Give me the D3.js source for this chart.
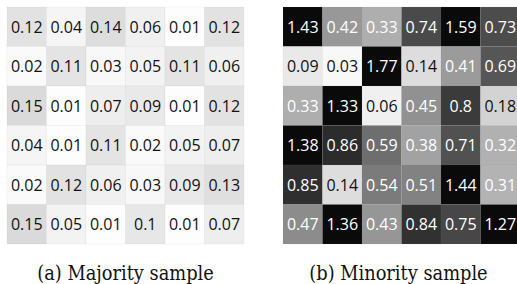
<!DOCTYPE html>
<html>
<script src='https://d3js.org/d3.v7.min.js'></script>
<style>
body { margin: 0; background: white; }
.cap { font-family: "DejaVu Serif Condensed", "DejaVu Serif", serif; font-size: 19.8px; }
.val { font-family: "Open Sans", "Noto Sans", sans-serif; font-size: 16px; }
</style>
<body>
<svg id="chart" width=517 height=284></svg>
<script>

// values (row by row)
var majority = [
  [0.12, 0.04, 0.14, 0.06, 0.01, 0.12],
  [0.02, 0.11, 0.03, 0.05, 0.11, 0.06],
  [0.15, 0.01, 0.07, 0.09, 0.01, 0.12],
  [0.04, 0.01, 0.11, 0.02, 0.05, 0.07],
  [0.02, 0.12, 0.06, 0.03, 0.09, 0.13],
  [0.15, 0.05, 0.01, 0.1, 0.01, 0.07]
];
var minority = [
  [1.43, 0.42, 0.33, 0.74, 1.59, 0.73],
  [0.09, 0.03, 1.77, 0.14, 0.41, 0.69],
  [0.33, 1.33, 0.06, 0.45, 0.8, 0.18],
  [1.38, 0.86, 0.59, 0.38, 0.71, 0.32],
  [0.85, 0.14, 0.54, 0.51, 1.44, 0.31],
  [0.47, 1.36, 0.43, 0.84, 0.75, 1.27]
];
var rowIds = [0, 1, 2, 3, 4, 5];
var colIds = [0, 1, 2, 3, 4, 5];
var captions = ["(a) Majority sample", "(b) Minority sample"];

var svg = d3.select("#chart");
var size = 237;

// shared grey scale, saturates near 1
var color = d3.scaleLinear().domain([0, 1]).range(["#ffffff", "#0a0a0a"]).clamp(true);

function drawGrid(data, x0, y0, caption, capX) {
  var x = d3.scaleBand().domain(colIds).range([x0, x0 + size]);
  var y = d3.scaleBand().domain(rowIds).range([y0, y0 + size]);

  var cells = [];
  data.forEach(function(row, i) {
    row.forEach(function(v, j) { cells.push({r: i, c: j, v: v}); });
  });

  var g = svg.append("g");
  g.selectAll("rect").data(cells).enter().append("rect")
    .attr("x", d => x(d.c))
    .attr("y", d => y(d.r))
    .attr("width", x.bandwidth())
    .attr("height", y.bandwidth())
    .attr("fill", d => color(d.v))
    .attr("stroke", "#888")
    .attr("stroke-opacity", 0.12)
    .attr("stroke-width", 0.6);

  g.selectAll("text").data(cells).enter().append("text")
    .attr("class", "val")
    .attr("x", d => x(d.c) + x.bandwidth() / 2)
    .attr("y", d => y(d.r) + y.bandwidth() / 2)
    .attr("dy", "0.36em")
    .attr("text-anchor", "middle")
    .attr("fill", d => d.v > 0.25 ? "white" : "#111")
    .text(d => String(d.v));

  // caption under the grid
  svg.append("text")
    .attr("class", "cap")
    .attr("x", capX)
    .attr("y", 280)
    .attr("text-anchor", "middle")
    .attr("fill", "#111")
    .text(caption);
}

drawGrid(majority, 7, 7, captions[0], 125.5);
drawGrid(minority, 283, 7, captions[1], 398.5);

</script>
</body>
</html>
